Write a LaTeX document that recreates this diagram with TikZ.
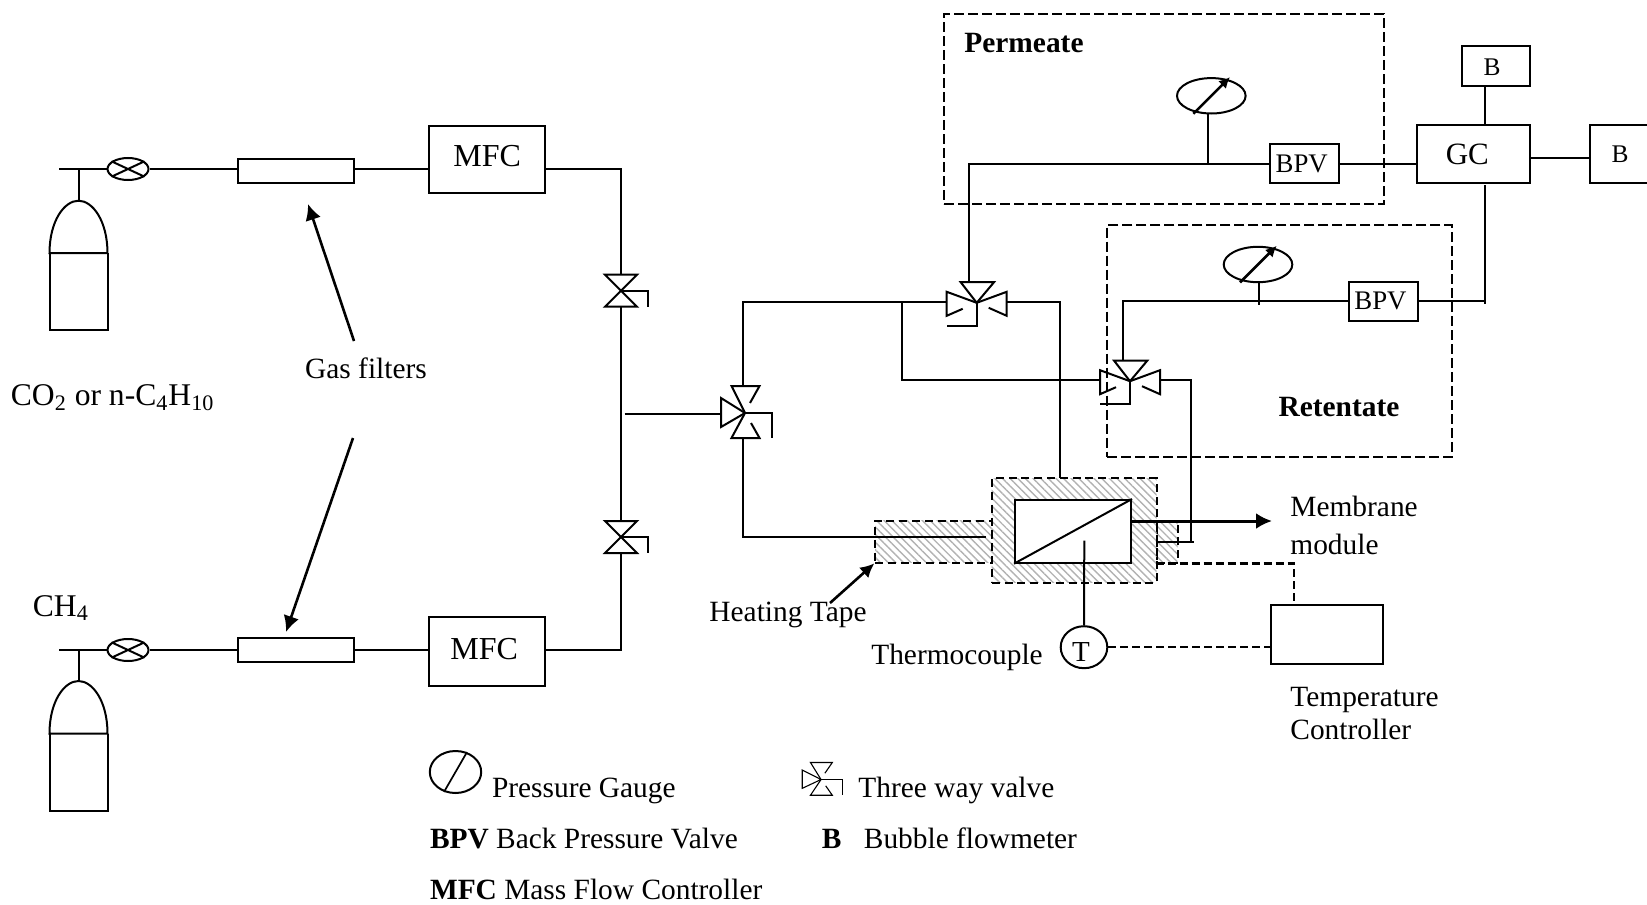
\documentclass[tikz,border=0pt]{standalone}
\usepackage{fontspec}
\setmainfont{Liberation Serif}
\usetikzlibrary{calc,positioning,arrows.meta,shapes,shapes.geometric,patterns.meta}
\tikzset{
  line/.style={draw, line width=1pt},
  dline/.style={draw, line width=1.25pt, dash pattern=on 4pt off 2pt},
  arrow/.style={draw, line width=1.3pt, -{Latex[length=8pt,width=8pt]}},
  box/.style={rectangle, draw=black, line width=1pt, inner sep=0pt, font=\fontsize{15.5}{18}\selectfont},
  bpv/.style={box, minimum width=34.4pt, minimum height=19.6pt, font=\fontsize{13.4}{15}\selectfont},
  flowb/.style={box, minimum width=17.4pt, font=\fontsize{12.7}{15}\selectfont},
  filt/.style={box, minimum width=58pt, minimum height=12pt},
  mfc/.style={box, minimum width=58.2pt, minimum height=33.5pt, font=\fontsize{16}{18}\selectfont},
  reg/.style={ellipse, draw=black, line width=1pt, inner sep=0pt, minimum width=20.5pt, minimum height=11pt},
  gauge/.style={ellipse, draw=black, line width=1pt, inner sep=0pt, minimum width=34.3pt, minimum height=17.7pt},
  zone/.style={rectangle, draw=black, line width=0.9pt, dash pattern=on 5pt off 2pt, inner sep=0pt},
  heat/.style={rectangle, draw=black, line width=1pt, dash pattern=on 4pt off 2.4pt, inner sep=0pt,
    pattern={Lines[angle=-45,distance=2.7pt,line width=0.7pt]}, pattern color=black!30},
  txt/.style={inner sep=0pt, font=\fontsize{14.7}{17.6}\selectfont},
  vline/.style={line width=1pt},
  pics/bottle/.style={code={
    \draw[vline] (-29,52.5) .. controls (-29,20) and (-14,0) .. (0,0) .. controls (14,0) and (29,20) .. (29,52.5) -- cycle;
    \draw[vline] (-29,52.5) -- (-29,129.5) -- (29,129.5) -- (29,52.5);
    \coordinate (-neck) at (0,0);
  }},
  pics/bowvalve/.style={code={
    \draw[vline] (-16,-16) -- (16,-16) -- (0,0) -- cycle;
    \draw[vline] (-16,16) -- (16,16) -- (0,0) -- cycle;
    \draw[vline] (0,0) -- (27,0) -- (27,16);
    \coordinate (-t) at (0,-16);
    \coordinate (-b) at (0,16);
  }},
  pics/lvalve/.style={code={
    \draw[vline] (-24,-15) -- (-24,14) -- (0,0) -- cycle;
    \draw[vline] (5,-10) -- (14.5,-27) -- (-13.5,-27) -- (0,0);
    \draw[vline] (6,10) -- (14.5,25) -- (-13.5,25) -- (0,0);
    \draw[vline] (0,0) -- (27,0) -- (27,25);
    \coordinate (-l) at (-24,1.3);
    \coordinate (-t) at (-1.7,-27);
    \coordinate (-b) at (-1.7,25);
  }},
  pics/tvalve/.style={code={
    \draw[vline] (-14,6) -- (-30,13) -- (-30,-11) -- (0,0);
    \draw[vline] (12,5) -- (30,13) -- (30,-11) -- (0,0);
    \draw[vline] (-16,-20.6) -- (17.3,-20.6) -- (0,0) -- cycle;
    \draw[vline] (0,0) -- (0,23) -- (-30,23);
    \coordinate (-l) at (-30,-1.3);
    \coordinate (-r) at (30,-1.3);
    \coordinate (-t) at (-7.4,-20.6);
  }},
}

\begin{document}
\begin{tikzpicture}[x=0.5pt,y=-0.5pt]
    \useasboundingbox (0,0) rectangle (1647,904);

    \node[zone,minimum width=219.85pt,minimum height=95.15pt] (perm) at (1163.85,109.15) {};
    \node[zone,minimum width=172.35pt,minimum height=116pt] (ret) at (1279.35,341) {};

    \pic (cyla) at (78.5,200.7) {bottle};
    \pic (cylb) at (78.5,681) {bottle};
    \node[reg] (rega) at (128,169) {};
    \node[reg] (regb) at (128,650) {};
    \node[filt,right of=rega,node distance=83.8pt,yshift=-1pt] (flta) {};
    \node[filt,right of=regb,node distance=83.8pt,yshift=-0.2pt] (fltb) {};
    \node[mfc,right of=flta,node distance=95.8pt,yshift=6pt] (mfca) {\rule[-3.2pt]{0pt}{3.2pt}MFC};
    \node[mfc,minimum height=34.7pt,right of=fltb,node distance=95.8pt,yshift=-0.5pt] (mfcb) {\rule[-2.1pt]{0pt}{2.1pt}MFC\hspace*{3pt}};

    \foreach \r in {rega,regb} {
      \draw[vline] (\r.155) -- (\r.-25) (\r.25) -- (\r.205);
    }

    \pic (vu) at (621,290.7) {bowvalve};
    \pic (vd) at (621,537) {bowvalve};
    \pic (va) at (745,413) {lvalve};
    \pic (vp) at (976.7,302.8) {tvalve};
    \pic (vr) at (1130,381.2) {tvalve};

    % heated part
    \node[heat,minimum width=58.35pt,minimum height=21pt] (sleevel) at (933.35,541.7) {};
    \node[heat,minimum width=10.5pt,minimum height=21pt] (sleever) at (1167.2,541.7) {};
    \node[heat,minimum width=82.5pt,minimum height=52.2pt] (oven) at (1074.2,530.5) {};
    \node[rectangle,draw=black,fill=white,line width=1pt,inner sep=0pt,minimum width=58pt,minimum height=31.35pt] (modl) at (1073,531.35) {};

    \node[ellipse,draw=black,line width=1pt,inner sep=0pt,minimum width=23.3pt,minimum height=21pt,font=\fontsize{14.5}{17}\selectfont] (tc) at (1084,647.2) {\rule{0pt}{14pt}T\hspace*{3pt}};
    \node[box,minimum width=56.4pt,minimum height=29.2pt] (tctrl) at (1327,634.6) {};

    \node[gauge] (gp) at (1211.3,95.8) {};
    \node[gauge] (gr) at (1258,264.5) {};
    \node[bpv] (bpvp) at (1304.35,163.5) {BPV\hspace*{2.6pt}};
    \node[bpv] (bpvr) at (1383.5,301.3) {BPV\hspace*{3pt}};
    \node[box,minimum width=56.65pt,minimum height=29.15pt] (gc) at (1473.35,154.15) {GC\hspace*{6pt}};
    \node[flowb,minimum width=34pt,minimum height=19.85pt] (btop) at (1496,65.85) {\rule{0pt}{9.4pt}B\hspace*{4pt}};
    \node[flowb,minimum width=30pt,minimum height=29.15pt] (bside) at (1620,154.15) {B};

    \coordinate (tanka) at (59,169);
    \coordinate (tankb) at (59,650);
    \coordinate (tee) at (624.7,414.3);
    \coordinate (tapb) at (901.7,301.5);
    \coordinate (feed) at (986,536.5);
    \coordinate (perml) at (1060,478);
    \coordinate (retend) at (1190.7,541.7);
    \coordinate (sleevee) at (1194,541.7);
    \coordinate (outl) at (1131.7,521);
    \coordinate (oute) at (1272,521);
    \coordinate (tctop) at (1084.3,540.7);
    \coordinate (ctlt) at (1294,605);
    \coordinate (gcout) at (1530,158.3);
    \coordinate (gct) at (1484.7,125);
    \coordinate (gcb) at (1484.7,185);
    \coordinate (gcbe) at (1484.7,304);
    \coordinate (stemp) at (1208,163.7);
    \coordinate (stemr) at (1259,305);
    \coordinate (filtua) at (354,341);
    \coordinate (filtub) at (308,204);
    \coordinate (filtda) at (353,438);
    \coordinate (filtdb) at (286,632);
    \coordinate (tapea) at (830,603);

    \begin{scope} [every path/.style=line]
      \path (tanka) -- (rega.west);
      \path (tankb) -- (regb.west);
      \path (cyla-neck) -- (cyla-neck |- tanka);
      \path (cylb-neck) -- (cylb-neck |- tankb);
      \path (rega.east) -- (flta.west |- rega);
      \path (regb.east) -- (fltb.west |- regb);
      \path (flta.east |- rega) -- (mfca.west |- rega);
      \path (fltb.east |- regb) -- (mfcb.west |- regb);
      \path (mfca.east |- rega) -| (vu-t);
      \path (mfcb.east |- regb) -| (vd-b);
      \path (vu-b) -- (vd-t);
      \path (tee) -- (va-l);
      \path (va-t) |- (vp-l);
      \path (va-b) |- (feed);
      \path (tapb) |- (vr-l);
      \path (vp-r) -| (perml);
      \path (vp-t) |- (stemp);
      \path (stemp) -- (bpvp.west |- stemp);
      \path (stemp) -- (gp.south -| stemp);
      \path (vr-t) |- (bpvr.west);
      \path (gr.south -| stemr) -- (stemr);
      \path (bpvp.east |- stemp) -- (gc.west |- stemp);
      \path (bpvr.east) -| (gcbe);
      \path (gcb) -- (gcbe);
      \path (btop.south -| gct) -- (gct);
      \path (gcout) -- (bside.west |- gcout);
      \path (vr-r) -| (retend);
      \path (sleever.west) -- (sleevee);
      \path (modl.south west) -- (modl.north east);
      \path (tctop) -- (tc.north);
    \end{scope}

    \draw[arrow,line width=1.5pt,-{Latex[length=8pt,width=8pt]}] (outl) -- (oute);
    \draw[arrow] (filtua) -- (filtub);
    \draw[arrow] (filtda) -- (filtdb);
    \draw[arrow,-{Latex[length=7pt,width=7pt]}] (tapea) -- (sleevel.south west);
    \draw[arrow,-{Latex[length=5.5pt,width=5.5pt]},shorten <=-1pt,shorten >=-1.5pt] (gp.225) -- (gp.45);
    \draw[arrow,-{Latex[length=5.5pt,width=5.5pt]},shorten <=-1pt,shorten >=-1.5pt] (gr.225) -- (gr.45);

    \draw[dline] (tc.east) -- (tctrl.west |- tc);
    \draw[dline] (sleever.south west) -| (ctlt);

    \node[txt] (filters) at (366,368) {Gas filters};
    \node[txt,anchor=west,font=\fontsize{15.8}{18}\selectfont] (co) at (10.5,398) {CO\textsubscript{2} or n-C\textsubscript{4}H\textsubscript{10}};
    \node[txt,anchor=west,font=\fontsize{15.8}{18}\selectfont] (ch) at (32.5,608) {CH\textsubscript{4}};
    \node[txt,anchor=west] (permt) at (964,43) {\textbf{Permeate}};
    \node[txt] (rett) at (1339,407) {\textbf{Retentate}};
    \node[txt,anchor=west,align=left] (memb) at (1290,525) {Membrane\\[1.4pt]module};
    \node[txt,anchor=west,align=left] (tempc) at (1290,713.5) {Temperature\\[-1.35pt]Controller};
    \node[txt] (tape) at (788,615) {Heating Tape};
    \node[txt] (couple) at (957,657) {Thermocouple};

    % legend
    \node[gauge,minimum width=25.7pt,minimum height=21pt] (lgauge) at (455.5,772) {};
    \draw[line width=0.85pt] (lgauge.240) -- (lgauge.60);
    \pic[xscale=0.78,yscale=0.63,vline/.style={line width=0.55pt}] (lvalve) at (821,779.5) {lvalve};
    \node[txt,anchor=west] (lgp) at (491.6,790.5) {Pressure Gauge};
    \node[txt,anchor=west] (lgv) at (858,790) {Three way valve};
    \node[txt,anchor=west] (lgbpv) at (429.6,839) {\textbf{BPV} Back Pressure Valve};
    \node[txt,anchor=west] (lgb) at (821.5,838.5) {\textbf{B}};
    \node[txt,anchor=west] (lgbf) at (863.5,838.5) {Bubble flowmeter};
    \node[txt,anchor=west] (lgmfc) at (429.6,889) {\textbf{MFC} Mass Flow Controller};
\end{tikzpicture}
\end{document}
